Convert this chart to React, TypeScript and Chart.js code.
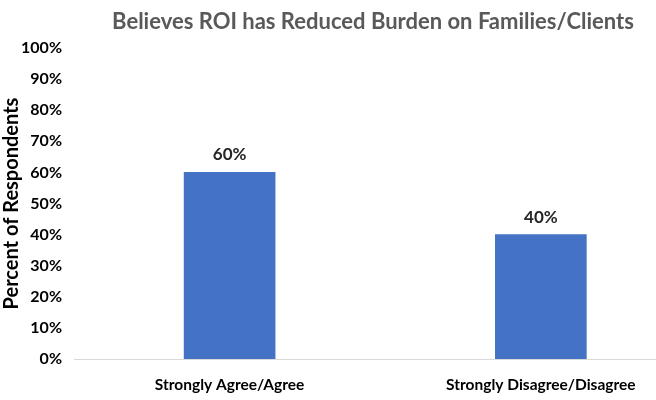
import React, { useEffect, useRef } from "react";
import { Chart, registerables } from "chart.js";

Chart.register(...registerables);

const chartTitle = "Believes ROI has Reduced Burden on Families/Clients";
const yAxisTitle = "Percent of Respondents";
const categories = ["Strongly Agree/Agree", "Strongly Disagree/Disagree"];
const values = [60, 40];
const yTicks = [0, 10, 20, 30, 40, 50, 60, 70, 80, 90, 100];

const FONT = "Lato, 'Open Sans', sans-serif";

export default function App() {
  const ref = useRef<HTMLCanvasElement | null>(null);

  useEffect(() => {
    if (!ref.current) return;
    const labelPlugin = {
      id: "extras",
      afterDraw(chart: any) {
        const ctx = chart.ctx;
        ctx.save();
        ctx.font = `bold 22px ${FONT}`;
        ctx.fillStyle = "#595959";
        ctx.textAlign = "center";
        ctx.textBaseline = "middle";
        ctx.fillText(chartTitle, 373, 22);
        const meta = chart.getDatasetMeta(0);
        ctx.font = `bold 17px ${FONT}`;
        ctx.fillStyle = "#262626";
        ctx.textBaseline = "bottom";
        meta.data.forEach((bar: any, i: number) => {
          ctx.fillText(values[i] + "%", bar.x, bar.y - 9);
        });
        ctx.restore();
      },
    };

    const chart = new Chart(ref.current, {
      type: "bar",
      data: {
        datasets: [
          {
            data: values.map((v, i) => ({ x: i, y: v })),
            backgroundColor: "#4472C4",
            barThickness: 91,
          },
        ],
      },
      options: {
        animation: false,
        responsive: false,
        maintainAspectRatio: false,
        layout: { padding: { top: 48, left: 0, right: 0, bottom: 0 } },
        plugins: {
          legend: { display: false },
          tooltip: { enabled: false },
          title: { display: false },
        },
        scales: {
          x: {
            type: "linear",
            offset: false,
            min: -0.5,
            max: 1.37,
            grace: 0,
            bounds: "ticks",
            grid: { display: false, drawTicks: false, offset: false },
            border: { display: true, color: "#d9d9d9", width: 1 },
            afterDataLimits: (scale: any) => {
              scale.min = -0.5;
              scale.max = 1.37;
            },
            afterBuildTicks: (scale: any) => {
              scale.ticks = categories.map((_, i) => ({ value: i }));
            },
            afterFit: (scale: any) => {
              scale.height = 41;
            },
            ticks: {
              autoSkip: false,
              maxRotation: 0,
              padding: 17,
              color: "#000",
              font: { family: FONT, size: 15.5, weight: "bold" },
              callback: (v: any) => categories[v as number] ?? "",
            },
          },
          y: {
            min: 0,
            max: 100,
            grid: { display: false, drawTicks: false },
            border: { display: false },
            afterBuildTicks: (scale: any) => {
              scale.ticks = yTicks.map((v) => ({ value: v }));
            },
            afterFit: (scale: any) => {
              scale.width = 74;
            },
            ticks: {
              padding: 12,
              color: "#000",
              font: { family: FONT, size: 16, weight: "bold" },
              callback: (v: any) => v + "%",
            },
            title: {
              display: true,
              text: yAxisTitle,
              color: "#000",
              padding: { top: 0, bottom: 0 },
              font: { family: FONT, size: 20, weight: "bold" },
            },
          },
        },
      },
      plugins: [labelPlugin],
    } as any);
    return () => chart.destroy();
  }, []);

  return (
    <div style={{ position: "fixed", left: 0, top: 0, width: 656, height: 400, background: "#fff" }}>
      <canvas ref={ref} width={656} height={400} style={{ display: "block" }} />
    </div>
  );
}
